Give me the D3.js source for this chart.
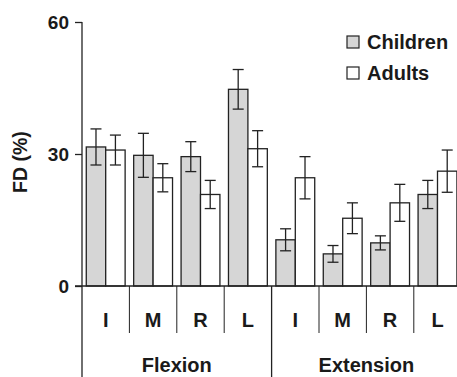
<!DOCTYPE html>
<html>
<head>
<meta charset="utf-8" />
<script src="https://d3js.org/d3.v7.min.js"></script>
<style>
body { margin: 0; background: #fff; }
text { font-family: "Liberation Sans", Arial, sans-serif; font-weight: bold; fill: #1a1a1a; }
</style>
</head>
<body>
<div id="chart"></div>
<script>
var fingers = ["I", "M", "R", "L"];
var movements = ["Flexion", "Extension"];
var series = ["Children", "Adults"];
var childMean = [31.6, 29.7, 29.4, 44.7, 10.5, 7.3, 9.8, 20.8];
var childErr  = [4.1, 5.0, 3.4, 4.5, 2.5, 1.9, 1.6, 3.2];
var adultMean = [30.9, 24.6, 20.8, 31.2, 24.6, 15.4, 18.9, 26.1];
var adultErr  = [3.4, 3.2, 3.2, 4.1, 4.8, 3.5, 4.2, 4.8];
var yTicks = [0, 30, 60];

var width = 457, height = 377;
var x0 = 82, y0 = 286;

var cats = [];
movements.forEach(function(m) { fingers.forEach(function(f) { cats.push(m + "-" + f); }); });

var x = d3.scaleBand().domain(cats).range([x0, x0 + 47.4 * 8]);
var xs = d3.scaleBand().domain(series).range([0, x.bandwidth()]).paddingInner(0).paddingOuter(0.22);
var y = d3.scaleLinear().domain([0, 60]).range([y0, 22]);

var svg = d3.select("#chart").append("svg")
    .attr("width", width)
    .attr("height", height);

var data = [];
cats.forEach(function(c, i) {
    data.push({cat: c, s: "Children", v: childMean[i], e: childErr[i]});
    data.push({cat: c, s: "Adults", v: adultMean[i], e: adultErr[i]});
});

svg.selectAll(".bar").data(data).enter().append("rect")
    .attr("class", "bar")
    .attr("x", function(d) { return x(d.cat) + xs(d.s); })
    .attr("y", function(d) { return y(d.v); })
    .attr("width", xs.bandwidth())
    .attr("height", function(d) { return y0 - y(d.v); })
    .style("fill", function(d) { return d.s == "Children" ? "#d6d6d6" : "#fff"; })
    .style("stroke", "#222")
    .style("stroke-width", 1.3);

// error bars
var eb = svg.selectAll(".err").data(data).enter().append("g")
    .attr("class", "err")
    .attr("transform", function(d) { return "translate(" + (x(d.cat) + xs(d.s) + xs.bandwidth() / 2) + ",0)"; });
eb.append("line")
    .attr("y1", function(d) { return y(d.v - d.e); })
    .attr("y2", function(d) { return y(d.v + d.e); })
    .style("stroke", "#222").style("stroke-width", 1.3);
eb.append("line").attr("x1", -5.5).attr("x2", 5.5)
    .attr("y1", function(d) { return y(d.v + d.e); })
    .attr("y2", function(d) { return y(d.v + d.e); })
    .style("stroke", "#222").style("stroke-width", 1.3);
eb.append("line").attr("x1", -5.5).attr("x2", 5.5)
    .attr("y1", function(d) { return y(d.v - d.e); })
    .attr("y2", function(d) { return y(d.v - d.e); })
    .style("stroke", "#222").style("stroke-width", 1.3);

// y axis
var yAxis = d3.axisLeft(y).tickValues(yTicks).tickSize(7).tickPadding(6);
var ga = svg.append("g").attr("transform", "translate(" + x0 + ",0)").call(yAxis);
ga.select(".domain").remove();
ga.selectAll("line").style("stroke", "#222").style("stroke-width", 1.3);
ga.selectAll("text").style("font-size", "19px").style("font-family", "Liberation Sans, Arial, sans-serif").style("font-weight", "bold").style("fill", "#1a1a1a");

svg.append("line").attr("x1", x0).attr("x2", x0).attr("y1", y(60)).attr("y2", height)
    .style("stroke", "#222").style("stroke-width", 1.3);
svg.append("line").attr("x1", x0 - 7).attr("x2", width).attr("y1", y0).attr("y2", y0)
    .style("stroke", "#222").style("stroke-width", 1.3);

// category separators
cats.forEach(function(c, i) {
    if (i == 0) return;
    var long = (i % 4 == 0);
    svg.append("line")
        .attr("x1", x(c)).attr("x2", x(c))
        .attr("y1", y0).attr("y2", long ? height : 333)
        .style("stroke", "#222").style("stroke-width", long ? 1.3 : 1);
});

svg.selectAll(".catLabel").data(cats).enter().append("text")
    .attr("x", function(d) { return x(d) + x.bandwidth() / 2; })
    .attr("y", 320)
    .attr("dy", "0.35em")
    .attr("text-anchor", "middle")
    .style("font-size", "20px")
    .text(function(d) { return d.split("-")[1]; });

movements.forEach(function(m, i) {
    svg.append("text")
        .attr("x", x(m + "-M") + x.bandwidth())
        .attr("y", 365)
        .attr("dy", "0.35em")
        .attr("text-anchor", "middle")
        .style("font-size", "20px")
        .text(m);
});

svg.append("text")
    .attr("transform", "translate(27,162) rotate(-90)")
    .attr("text-anchor", "middle")
    .style("font-size", "19.5px")
    .text("FD (%)");

// legend
var lg = svg.selectAll(".lg").data(series).enter().append("g")
    .attr("transform", function(d, i) { return "translate(347," + (42 + i * 31) + ")"; });
lg.append("rect").attr("x", 0).attr("y", -6).attr("width", 12).attr("height", 12)
    .style("fill", function(d) { return d == "Children" ? "#d6d6d6" : "#fff"; })
    .style("stroke", "#222").style("stroke-width", 1.2);
lg.append("text").attr("x", 20).attr("dy", "0.35em")
    .style("font-size", "20px")
    .text(function(d) { return d; });
</script>
</body>
</html>
